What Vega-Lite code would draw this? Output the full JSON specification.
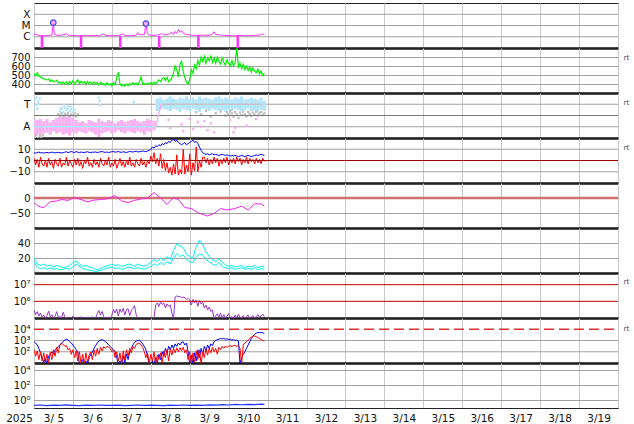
{
"$schema": "https://vega.github.io/schema/vega-lite/v6.json",
"padding": {"left": 5, "top": 2, "right": 5, "bottom": 4},
"spacing": 0,
"bounds": "flush",
"config": {
 "font": "DejaVu Sans",
 "view": {"stroke": "#222", "strokeWidth": 1},
 "axis": {"labelFont": "DejaVu Sans", "labelFontSize": 10, "labelColor": "#111", "gridColor": "#c8c8c8", "gridWidth": 1, "titleFont": "DejaVu Sans", "labelOverlap": false},
 "axisY": {"ticks": false, "domain": false, "labelPadding": 4, "grid": false},
 "axisX": {"ticks": false, "tickSize": 0, "gridColor": "#c8c8c8"}
},
"datasets": {
 "z0": [{"h":0,"v":0},{"h":360,"v":0}],
 "e67": [{"h":0,"v":1e6},{"h":360,"v":1e6},{"h":0,"v":1e7},{"h":360,"v":1e7}],
 "p4": [{"h":0,"v":10000},{"h":360,"v":10000}],
 "grid1": [{"h":0,"v":1e-6},{"h":360,"v":1e-6},{"h":0,"v":1e-5},{"h":360,"v":1e-5},{"h":0,"v":1e-4},{"h":360,"v":1e-4}],
 "grid2": [{"h":0,"v":400},{"h":360,"v":400},{"h":0,"v":500},{"h":360,"v":500},{"h":0,"v":600},{"h":360,"v":600},{"h":0,"v":700},{"h":360,"v":700}],
 "grid3": [{"h":0,"v":-1},{"h":360,"v":-1},{"h":0,"v":1},{"h":360,"v":1}],
 "grid4": [{"h":0,"v":-10},{"h":360,"v":-10},{"h":0,"v":10},{"h":360,"v":10}],
 "grid5": [{"h":0,"v":-50},{"h":360,"v":-50}],
 "grid6": [{"h":0,"v":20},{"h":360,"v":20},{"h":0,"v":40},{"h":360,"v":40}],
 "grid8": [{"h":0,"v":100},{"h":360,"v":100},{"h":0,"v":1000},{"h":360,"v":1000}],
 "grid9": [{"h":0,"v":1},{"h":360,"v":1},{"h":0,"v":100},{"h":360,"v":100},{"h":0,"v":10000},{"h":360,"v":10000}],
 "xray": [{"h":0,"v":1.5e-6},{"h":1,"v":1.8e-6},{"h":3,"v":1.3e-6},{"h":6,"v":1.2e-6},{"h":9,"v":1.3e-6},{"h":11,"v":1.4e-6},{"h":11.9,"v":1.8e-5},{"h":12.5,"v":1.6e-6},{"h":15,"v":1.3e-6},{"h":18,"v":1.5e-6},{"h":20,"v":1.9e-6},{"h":21,"v":1.4e-6},{"h":24,"v":1.3e-6},{"h":27,"v":1.2e-6},{"h":30,"v":1.3e-6},{"h":33,"v":1.2e-6},{"h":36,"v":1.3e-6},{"h":40,"v":1.2e-6},{"h":43,"v":1.8e-6},{"h":44,"v":1.3e-6},{"h":48,"v":1.2e-6},{"h":52,"v":1.3e-6},{"h":55,"v":1.8e-6},{"h":56,"v":1.3e-6},{"h":60,"v":1.2e-6},{"h":63,"v":1.4e-6},{"h":64,"v":2.4e-6},{"h":65,"v":1.5e-6},{"h":68,"v":1.6e-6},{"h":69,"v":1.5e-5},{"h":69.8,"v":2.2e-6},{"h":71,"v":1.4e-6},{"h":74,"v":1.3e-6},{"h":77,"v":1.5e-6},{"h":79,"v":2e-6},{"h":80,"v":1.4e-6},{"h":83,"v":1.7e-6},{"h":85,"v":2.5e-6},{"h":86,"v":1.6e-6},{"h":87,"v":3e-6},{"h":88,"v":2e-6},{"h":89,"v":4.5e-6},{"h":90,"v":2.5e-6},{"h":91,"v":3.5e-6},{"h":92,"v":2e-6},{"h":94,"v":1.6e-6},{"h":97,"v":1.4e-6},{"h":100,"v":1.3e-6},{"h":104,"v":1.4e-6},{"h":108,"v":1.3e-6},{"h":110,"v":1.8e-6},{"h":111,"v":2.8e-6},{"h":112,"v":1.6e-6},{"h":115,"v":1.4e-6},{"h":119,"v":1.3e-6},{"h":123,"v":1.2e-6},{"h":127,"v":1.3e-6},{"h":131,"v":1.2e-6},{"h":135,"v":1.3e-6},{"h":139,"v":1.4e-6},{"h":141,"v":1.8e-6},{"h":142,"v":1.5e-6}],
 "xrayDrop": [{"h":4.9,"v":1.2e-6},{"h":29,"v":1.2e-6},{"h":53.2,"v":1.2e-6},{"h":77.2,"v":1.2e-6},{"h":101.3,"v":1.2e-6},{"h":125.6,"v":1.2e-6}],
 "flare": [{"h":11.9,"v":1.8e-5},{"h":69,"v":1.5e-5}],
 "speed": [{"h":0,"v":515},{"h":1,"v":490},{"h":2,"v":525},{"h":3,"v":485},{"h":4,"v":480},{"h":5,"v":465},{"h":6,"v":460},{"h":7,"v":450},{"h":8,"v":445},{"h":9,"v":455},{"h":10,"v":430},{"h":11,"v":445},
{"h":12,"v":425},{"h":13,"v":430},{"h":14,"v":440},{"h":15,"v":410},{"h":16,"v":425},{"h":17,"v":405},{"h":18,"v":420},{"h":19,"v":400},{"h":20,"v":425},{"h":21,"v":395},{"h":22,"v":430},{"h":23,"v":405},
{"h":24,"v":435},{"h":25,"v":400},{"h":26,"v":425},{"h":27,"v":445},{"h":28,"v":405},{"h":29,"v":430},{"h":30,"v":410},{"h":31,"v":425},{"h":32,"v":395},{"h":33,"v":430},{"h":34,"v":405},{"h":35,"v":420},
{"h":36,"v":395},{"h":37,"v":425},{"h":38,"v":400},{"h":39,"v":415},{"h":40,"v":390},{"h":41,"v":420},{"h":42,"v":400},{"h":43,"v":405},{"h":44,"v":385},{"h":45,"v":415},{"h":46,"v":390},{"h":47,"v":405},
{"h":48,"v":380},{"h":49,"v":415},{"h":50,"v":390},{"h":51,"v":470},{"h":52,"v":530},{"h":53,"v":400},{"h":54,"v":380},{"h":55,"v":395},{"h":56,"v":375},{"h":57,"v":400},{"h":58,"v":380},{"h":59,"v":405},
{"h":60,"v":390},{"h":61,"v":415},{"h":62,"v":395},{"h":63,"v":410},{"h":64,"v":390},{"h":65,"v":425},{"h":66,"v":480},{"h":67,"v":400},{"h":68,"v":405},{"h":69,"v":395},{"h":70,"v":410},{"h":71,"v":400},
{"h":72,"v":415},{"h":73,"v":395},{"h":74,"v":420},{"h":75,"v":400},{"h":76,"v":425},{"h":77,"v":445},{"h":78,"v":425},{"h":79,"v":460},{"h":80,"v":470},{"h":81,"v":440},{"h":82,"v":475},{"h":83,"v":425},
{"h":84,"v":440},{"h":85,"v":470},{"h":86,"v":520},{"h":87,"v":600},{"h":88,"v":560},{"h":89,"v":480},{"h":90,"v":620},{"h":91,"v":650},{"h":92,"v":540},{"h":93,"v":470},{"h":94,"v":420},{"h":95,"v":400},
{"h":96,"v":450},{"h":97,"v":560},{"h":98,"v":520},{"h":99,"v":610},{"h":100,"v":570},{"h":101,"v":660},{"h":102,"v":610},{"h":103,"v":700},{"h":104,"v":650},{"h":105,"v":710},{"h":106,"v":630},{"h":107,"v":690},
{"h":108,"v":660},{"h":109,"v":710},{"h":110,"v":640},{"h":111,"v":690},{"h":112,"v":630},{"h":113,"v":700},{"h":114,"v":650},{"h":115,"v":620},{"h":116,"v":690},{"h":117,"v":640},{"h":118,"v":610},{"h":119,"v":670},
{"h":120,"v":630},{"h":121,"v":600},{"h":122,"v":660},{"h":123,"v":600},{"h":124,"v":640},{"h":125,"v":800},{"h":126,"v":590},{"h":127,"v":630},{"h":128,"v":570},{"h":129,"v":620},{"h":130,"v":560},{"h":131,"v":600},
{"h":132,"v":550},{"h":133,"v":590},{"h":134,"v":530},{"h":135,"v":580},{"h":136,"v":540},{"h":137,"v":525},{"h":138,"v":565},{"h":139,"v":510},{"h":140,"v":545},{"h":141,"v":495},{"h":142,"v":520}],
 "pinkBand": [{"h":0,"v":-1.9,"v2":-0.2},{"h":2,"v":-1.7,"v2":-0.4},{"h":4,"v":-1.8,"v2":-0.3},{"h":6,"v":-1.6,"v2":-0.5},{"h":8,"v":-1.5,"v2":-0.3},{"h":10,"v":-1.7,"v2":-0.6},{"h":12,"v":-1.4,"v2":-0.4},{"h":14,"v":-1.6,"v2":-0.2},{"h":16,"v":-1.5,"v2":-0.1},{"h":18,"v":-1.7,"v2":0.0},{"h":20,"v":-1.6,"v2":-0.1},{"h":22,"v":-1.8,"v2":0.0},{"h":24,"v":-1.5,"v2":-0.2},{"h":26,"v":-1.6,"v2":-0.4},{"h":28,"v":-1.4,"v2":-0.6},{"h":30,"v":-1.5,"v2":-0.5},{"h":32,"v":-1.6,"v2":-0.7},{"h":34,"v":-1.4,"v2":-0.4},{"h":36,"v":-1.5,"v2":-0.5},{"h":38,"v":-1.7,"v2":-0.6},{"h":40,"v":-1.9,"v2":-0.3},{"h":42,"v":-1.6,"v2":-0.5},{"h":44,"v":-1.5,"v2":-0.6},{"h":46,"v":-1.4,"v2":-0.4},{"h":48,"v":-1.6,"v2":-0.5},{"h":50,"v":-1.5,"v2":-0.7},{"h":52,"v":-1.3,"v2":-0.5},{"h":54,"v":-1.5,"v2":-0.4},{"h":56,"v":-1.6,"v2":-0.6},{"h":58,"v":-1.4,"v2":-0.5},{"h":60,"v":-1.5,"v2":-0.4},{"h":62,"v":-1.6,"v2":-0.3},{"h":64,"v":-1.4,"v2":-0.5},{"h":66,"v":-1.5,"v2":-0.6},{"h":68,"v":-1.7,"v2":-0.5},{"h":70,"v":-1.4,"v2":-0.3},{"h":72,"v":-1.5,"v2":-0.4},{"h":74,"v":-1.3,"v2":-0.5}],
 "blueBand": [{"h":76,"v":0.4,"v2":1.5},{"h":78,"v":0.5,"v2":1.6},{"h":80,"v":0.6,"v2":1.4},{"h":82,"v":0.5,"v2":1.5},{"h":84,"v":0.4,"v2":1.7},{"h":86,"v":0.6,"v2":1.5},{"h":88,"v":0.5,"v2":1.4},{"h":90,"v":0.3,"v2":1.6},{"h":92,"v":0.6,"v2":1.5},{"h":94,"v":0.5,"v2":1.7},{"h":96,"v":0.4,"v2":1.5},{"h":98,"v":0.6,"v2":1.6},{"h":100,"v":0.5,"v2":1.4},{"h":102,"v":0.3,"v2":1.7},{"h":104,"v":0.6,"v2":1.5},{"h":106,"v":0.5,"v2":1.6},{"h":108,"v":0.4,"v2":1.5},{"h":110,"v":0.6,"v2":1.4},{"h":112,"v":0.5,"v2":1.6},{"h":114,"v":0.4,"v2":1.7},{"h":116,"v":0.5,"v2":1.5},{"h":118,"v":0.3,"v2":1.6},{"h":120,"v":0.5,"v2":1.5},{"h":122,"v":0.4,"v2":1.4},{"h":124,"v":0.6,"v2":1.6},{"h":126,"v":0.5,"v2":1.5},{"h":128,"v":0.4,"v2":1.7},{"h":130,"v":0.5,"v2":1.4},{"h":132,"v":0.6,"v2":1.5},{"h":134,"v":0.4,"v2":1.6},{"h":136,"v":0.5,"v2":1.5},{"h":138,"v":0.3,"v2":1.4},{"h":140,"v":0.5,"v2":1.6},{"h":142,"v":0.4,"v2":1.3}],
 "sect": [{"h":0.5,"v":1.4,"c":"T"},{"h":1,"v":0.9,"c":"T"},{"h":1.5,"v":1.6,"c":"T"},{"h":2,"v":0.6,"c":"T"},{"h":2.5,"v":1.2,"c":"T"},{"h":3,"v":1.0,"c":"T"},{"h":3.5,"v":1.5,"c":"T"},{"h":40,"v":1.6,"c":"T"},{"h":40.5,"v":1.3,"c":"T"},{"h":41,"v":0.9,"c":"T"},{"h":61.5,"v":1.2,"c":"T"},
{"h":15,"v":0.1,"c":"G"},{"h":16,"v":0.0,"c":"G"},{"h":17,"v":0.2,"c":"G"},{"h":18,"v":-0.1,"c":"G"},{"h":19,"v":0.15,"c":"G"},{"h":20,"v":0.05,"c":"G"},{"h":21,"v":0.2,"c":"G"},{"h":22,"v":-0.05,"c":"G"},{"h":23,"v":0.1,"c":"G"},{"h":24,"v":0.0,"c":"G"},{"h":25,"v":0.2,"c":"G"},{"h":26,"v":-0.1,"c":"G"},{"h":27,"v":0.1,"c":"G"},{"h":0.5,"v":-1.9,"c":"G"},{"h":1.5,"v":-1.7,"c":"G"},{"h":2.5,"v":-2.0,"c":"G"},{"h":3.5,"v":-1.8,"c":"G"},{"h":4.5,"v":-1.95,"c":"G"},{"h":5.5,"v":-1.75,"c":"G"},
{"h":16,"v":0.4,"c":"T"},{"h":17,"v":0.6,"c":"T"},{"h":18,"v":0.3,"c":"T"},{"h":19,"v":0.7,"c":"T"},{"h":20,"v":0.5,"c":"T"},{"h":21,"v":0.8,"c":"T"},{"h":22,"v":0.4,"c":"T"},{"h":23,"v":0.6,"c":"T"},{"h":24,"v":0.3,"c":"T"},{"h":25,"v":0.5,"c":"T"},{"h":16.5,"v":0.7,"c":"T"},{"h":18.5,"v":0.9,"c":"T"},{"h":20.5,"v":0.6,"c":"T"},{"h":22.5,"v":0.8,"c":"T"},
{"h":100,"v":0.3,"c":"G"},{"h":103,"v":0.1,"c":"G"},{"h":106,"v":0.4,"c":"G"},{"h":109,"v":-0.1,"c":"G"},{"h":112,"v":0.2,"c":"G"},{"h":115,"v":0.35,"c":"G"},{"h":118,"v":0.0,"c":"G"},{"h":119,"v":0.3,"c":"G"},{"h":120,"v":0.1,"c":"G"},{"h":121,"v":0.4,"c":"G"},{"h":122,"v":0.2,"c":"G"},{"h":123,"v":-0.1,"c":"G"},{"h":124,"v":0.3,"c":"G"},{"h":125,"v":0.1,"c":"G"},{"h":126,"v":-0.2,"c":"G"},{"h":127,"v":0.25,"c":"G"},{"h":128,"v":0.05,"c":"G"},{"h":129,"v":0.35,"c":"G"},{"h":130,"v":0.1,"c":"G"},{"h":131,"v":-0.1,"c":"G"},{"h":132,"v":0.3,"c":"G"},{"h":133,"v":0.15,"c":"G"},{"h":134,"v":-0.05,"c":"G"},{"h":135,"v":0.25,"c":"G"},{"h":136,"v":0.1,"c":"G"},{"h":137,"v":0.35,"c":"G"},{"h":138,"v":0.0,"c":"G"},{"h":139,"v":0.2,"c":"G"},{"h":140,"v":0.3,"c":"G"},{"h":141,"v":0.05,"c":"G"},{"h":142,"v":0.2,"c":"G"},
{"h":83,"v":-0.4,"c":"A"},{"h":84,"v":-1.1,"c":"A"},{"h":91,"v":-0.8,"c":"A"},{"h":92,"v":-1.4,"c":"A"},{"h":96,"v":-0.3,"c":"A"},{"h":98,"v":-1.2,"c":"A"},{"h":101,"v":-0.6,"c":"A"},{"h":103,"v":-1.0,"c":"A"},{"h":105,"v":-0.5,"c":"A"},{"h":107,"v":-1.3,"c":"A"},{"h":109,"v":-0.7,"c":"A"},{"h":111,"v":-1.5,"c":"A"},{"h":121,"v":-0.4,"c":"A"},{"h":123,"v":-1.5,"c":"A"},{"h":124,"v":-1.1,"c":"A"},{"h":131,"v":-0.9,"c":"A"},{"h":137,"v":-0.3,"c":"A"}],
 "model": [{"h":0,"v":-1,"s":"a"},{"h":75,"v":-1,"s":"a"},{"h":75,"v":-1,"s":"m"},{"h":78.3,"v":1,"s":"m"},{"h":78.3,"v":1,"s":"t"},{"h":141,"v":1,"s":"t"}],
 "bt": [{"h":0,"v":7},{"h":1,"v":6.5},{"h":2,"v":7},{"h":3,"v":7.5},{"h":4,"v":6.8},{"h":5,"v":7},{"h":6,"v":6.5},{"h":7,"v":7},{"h":8,"v":7.2},{"h":9,"v":6.8},{"h":10,"v":7},{"h":11,"v":7.5},{"h":12,"v":7},{"h":13,"v":6.8},{"h":14,"v":7},{"h":15,"v":7.3},{"h":16,"v":7},{"h":17,"v":6.6},{"h":18,"v":7},{"h":19,"v":7.4},{"h":20,"v":7.8},{"h":21,"v":7},{"h":22,"v":7.5},{"h":23,"v":8},
{"h":24,"v":7.5},{"h":25,"v":7},{"h":26,"v":8},{"h":27,"v":7.4},{"h":28,"v":7},{"h":29,"v":7.6},{"h":30,"v":7.2},{"h":31,"v":7},{"h":32,"v":7.5},{"h":33,"v":7.8},{"h":34,"v":7.2},{"h":35,"v":7},{"h":36,"v":7.5},{"h":37,"v":7.3},{"h":38,"v":7.6},{"h":39,"v":7},{"h":40,"v":7.4},{"h":41,"v":7.8},{"h":42,"v":8},{"h":43,"v":7.5},{"h":44,"v":7.2},{"h":45,"v":7.6},{"h":46,"v":7},{"h":47,"v":7.5},
{"h":48,"v":7.8},{"h":49,"v":8},{"h":50,"v":7.4},{"h":51,"v":7.6},{"h":52,"v":8},{"h":53,"v":7.5},{"h":54,"v":7.2},{"h":55,"v":7.8},{"h":56,"v":7.5},{"h":57,"v":7},{"h":58,"v":7.6},{"h":59,"v":8},{"h":60,"v":7.8},{"h":61,"v":7.5},{"h":62,"v":8},{"h":63,"v":8.2},{"h":64,"v":7.6},{"h":65,"v":7.8},{"h":66,"v":8},{"h":67,"v":8.5},{"h":68,"v":8.2},{"h":69,"v":7.8},{"h":70,"v":8.5},{"h":71,"v":9},
{"h":72,"v":10},{"h":73,"v":12},{"h":74,"v":11},{"h":75,"v":13},{"h":76,"v":12.5},{"h":77,"v":14},{"h":78,"v":13},{"h":79,"v":15},{"h":80,"v":14},{"h":81,"v":16},{"h":82,"v":15},{"h":83,"v":17},{"h":84,"v":16},{"h":85,"v":18},{"h":86,"v":19},{"h":87,"v":17},{"h":88,"v":18},{"h":89,"v":16},{"h":90,"v":15},{"h":91,"v":14},{"h":92,"v":15},{"h":93,"v":16},{"h":94,"v":14},{"h":95,"v":15},
{"h":96,"v":16},{"h":97,"v":17},{"h":98,"v":18},{"h":99,"v":16},{"h":100,"v":17},{"h":101,"v":15},{"h":102,"v":12},{"h":103,"v":9},{"h":104,"v":7},{"h":105,"v":6},{"h":106,"v":5.5},{"h":107,"v":6},{"h":108,"v":5},{"h":109,"v":5.5},{"h":110,"v":6},{"h":111,"v":5},{"h":112,"v":5.5},{"h":113,"v":5},{"h":114,"v":4.5},{"h":115,"v":5},{"h":116,"v":5.5},{"h":117,"v":5},{"h":118,"v":4.5},{"h":119,"v":5},
{"h":120,"v":4.5},{"h":121,"v":4},{"h":122,"v":4.5},{"h":123,"v":4},{"h":124,"v":4.5},{"h":125,"v":4},{"h":126,"v":3.5},{"h":127,"v":4},{"h":128,"v":4.5},{"h":129,"v":4},{"h":130,"v":3.5},{"h":131,"v":4},{"h":132,"v":4.5},{"h":133,"v":4},{"h":134,"v":3.5},{"h":135,"v":4},{"h":136,"v":4.5},{"h":137,"v":5},{"h":138,"v":4.5},{"h":139,"v":5},{"h":140,"v":5.5},{"h":141,"v":5},{"h":142,"v":4.5}],
 "bz": [{"h":0,"v":2},{"h":1,"v":-4},{"h":2,"v":1},{"h":3,"v":-6},{"h":4,"v":3},{"h":5,"v":-3},{"h":6,"v":-5},{"h":7,"v":0},{"h":8,"v":-6},{"h":9,"v":2},{"h":10,"v":-4},{"h":11,"v":-1},{"h":12,"v":-7},{"h":13,"v":1},{"h":14,"v":-3},{"h":15,"v":-5},{"h":16,"v":2},{"h":17,"v":-6},{"h":18,"v":-2},{"h":19,"v":-4},{"h":20,"v":3},{"h":21,"v":-5},{"h":22,"v":0},{"h":23,"v":-3},
{"h":24,"v":-6},{"h":25,"v":1},{"h":26,"v":-4},{"h":27,"v":2},{"h":28,"v":-5},{"h":29,"v":-1},{"h":30,"v":-7},{"h":31,"v":0},{"h":32,"v":-3},{"h":33,"v":3},{"h":34,"v":-5},{"h":35,"v":-2},{"h":36,"v":-6},{"h":37,"v":1},{"h":38,"v":-4},{"h":39,"v":-1},{"h":40,"v":-6},{"h":41,"v":2},{"h":42,"v":-3},{"h":43,"v":-5},{"h":44,"v":0},{"h":45,"v":-4},{"h":46,"v":3},{"h":47,"v":-6},
{"h":48,"v":-2},{"h":49,"v":-5},{"h":50,"v":1},{"h":51,"v":-7},{"h":52,"v":-3},{"h":53,"v":2},{"h":54,"v":-5},{"h":55,"v":-1},{"h":56,"v":-6},{"h":57,"v":0},{"h":58,"v":-4},{"h":59,"v":3},{"h":60,"v":-5},{"h":61,"v":-2},{"h":62,"v":-6},{"h":63,"v":1},{"h":64,"v":-3},{"h":65,"v":-5},{"h":66,"v":2},{"h":67,"v":-4},{"h":68,"v":-1},{"h":69,"v":-6},{"h":70,"v":0},{"h":71,"v":-3},
{"h":72,"v":4},{"h":73,"v":-1},{"h":74,"v":7},{"h":75,"v":-3},{"h":76,"v":2},{"h":77,"v":-5},{"h":78,"v":6},{"h":79,"v":-7},{"h":80,"v":1},{"h":81,"v":-9},{"h":82,"v":-2},{"h":83,"v":-11},{"h":84,"v":-6},
{"h":85,"v":-13},{"h":86,"v":-3},{"h":87,"v":-12},{"h":88,"v":5},{"h":89,"v":-13},{"h":90,"v":-8},{"h":91,"v":-12},{"h":92,"v":10},{"h":93,"v":-12},{"h":94,"v":-4},{"h":95,"v":-10},{"h":96,"v":6},{"h":97,"v":-13},{"h":98,"v":-2},{"h":99,"v":-9},{"h":100,"v":12},{"h":101,"v":-10},{"h":102,"v":0},{"h":103,"v":-6},{"h":104,"v":3},
{"h":105,"v":3},{"h":106,"v":-2},{"h":107,"v":2},{"h":108,"v":-4},{"h":109,"v":1},{"h":110,"v":-3},{"h":111,"v":3},{"h":112,"v":-2},{"h":113,"v":2},{"h":114,"v":-5},{"h":115,"v":1},{"h":116,"v":-3},{"h":117,"v":2},{"h":118,"v":-2},{"h":119,"v":3},{"h":120,"v":-4},{"h":121,"v":1},{"h":122,"v":-2},{"h":123,"v":2},{"h":124,"v":-3},{"h":125,"v":3},{"h":126,"v":-1},{"h":127,"v":2},{"h":128,"v":-4},{"h":129,"v":1},{"h":130,"v":-2},{"h":131,"v":3},{"h":132,"v":-3},{"h":133,"v":2},{"h":134,"v":-1},{"h":135,"v":1},{"h":136,"v":-3},{"h":137,"v":2},{"h":138,"v":-2},{"h":139,"v":1},{"h":140,"v":-3},{"h":141,"v":2},{"h":142,"v":-1}],
 "dst": [{"h":0,"v":-15},{"h":2,"v":-25},{"h":4,"v":-30},{"h":6,"v":-32},{"h":8,"v":-22},{"h":10,"v":-12},{"h":14,"v":-10},{"h":17,"v":-5},{"h":21,"v":-8},{"h":25,"v":2},{"h":29,"v":-5},{"h":33,"v":-13},{"h":37,"v":-7},{"h":41,"v":-5},{"h":45,"v":-3},{"h":50,"v":8},{"h":54,"v":-10},{"h":58,"v":-15},{"h":62,"v":-8},{"h":66,"v":-3},{"h":70,"v":0},{"h":74,"v":18},{"h":78,"v":0},{"h":82,"v":-21},{"h":86,"v":1},{"h":89,"v":-5},{"h":93,"v":-32},{"h":97,"v":-35},{"h":101,"v":-49},{"h":107,"v":-60},{"h":111,"v":-52},{"h":115,"v":-35},{"h":119,"v":-40},{"h":124,"v":-35},{"h":128,"v":-27},{"h":132,"v":-40},{"h":136,"v":-19},{"h":140,"v":-20},{"h":142,"v":-27}],
 "cyan": [{"h":0,"v":20,"s":"a"},{"h":2,"v":12,"s":"a"},{"h":4,"v":10,"s":"a"},{"h":6,"v":12,"s":"a"},{"h":8,"v":9,"s":"a"},{"h":10,"v":11,"s":"a"},{"h":12,"v":8,"s":"a"},{"h":14,"v":10,"s":"a"},{"h":16,"v":9,"s":"a"},{"h":18,"v":7,"s":"a"},{"h":20,"v":8,"s":"a"},{"h":22,"v":10,"s":"a"},{"h":24,"v":14,"s":"a"},{"h":26,"v":16,"s":"a"},{"h":28,"v":12,"s":"a"},{"h":30,"v":9,"s":"a"},{"h":32,"v":10,"s":"a"},{"h":34,"v":8,"s":"a"},{"h":36,"v":7,"s":"a"},{"h":38,"v":5,"s":"a"},{"h":40,"v":4,"s":"a"},{"h":42,"v":7,"s":"a"},{"h":44,"v":9,"s":"a"},{"h":46,"v":10,"s":"a"},{"h":48,"v":12,"s":"a"},{"h":50,"v":10,"s":"a"},{"h":52,"v":11,"s":"a"},{"h":54,"v":9,"s":"a"},{"h":56,"v":10,"s":"a"},{"h":58,"v":12,"s":"a"},{"h":60,"v":11,"s":"a"},{"h":62,"v":9,"s":"a"},{"h":64,"v":12,"s":"a"},{"h":66,"v":10,"s":"a"},{"h":68,"v":9,"s":"a"},{"h":70,"v":11,"s":"a"},{"h":72,"v":14,"s":"a"},{"h":74,"v":18,"s":"a"},{"h":76,"v":15,"s":"a"},{"h":78,"v":20,"s":"a"},{"h":80,"v":16,"s":"a"},{"h":82,"v":22,"s":"a"},{"h":84,"v":18,"s":"a"},{"h":86,"v":30,"s":"a"},{"h":88,"v":39,"s":"a"},{"h":90,"v":36,"s":"a"},{"h":92,"v":34,"s":"a"},{"h":94,"v":25,"s":"a"},{"h":96,"v":22,"s":"a"},{"h":98,"v":20,"s":"a"},{"h":100,"v":35,"s":"a"},{"h":102,"v":44,"s":"a"},{"h":104,"v":38,"s":"a"},{"h":106,"v":28,"s":"a"},{"h":108,"v":22,"s":"a"},{"h":110,"v":18,"s":"a"},{"h":112,"v":15,"s":"a"},{"h":114,"v":19,"s":"a"},{"h":116,"v":14,"s":"a"},{"h":118,"v":11,"s":"a"},{"h":120,"v":9,"s":"a"},{"h":122,"v":10,"s":"a"},{"h":124,"v":8,"s":"a"},{"h":126,"v":9,"s":"a"},{"h":128,"v":10,"s":"a"},{"h":130,"v":7,"s":"a"},{"h":132,"v":9,"s":"a"},{"h":134,"v":8,"s":"a"},{"h":136,"v":10,"s":"a"},{"h":138,"v":7,"s":"a"},{"h":140,"v":9,"s":"a"},{"h":142,"v":8,"s":"a"},
{"h":0,"v":14,"s":"b"},{"h":2,"v":8,"s":"b"},{"h":4,"v":6,"s":"b"},{"h":6,"v":7,"s":"b"},{"h":8,"v":5,"s":"b"},{"h":10,"v":7,"s":"b"},{"h":12,"v":5,"s":"b"},{"h":14,"v":6,"s":"b"},{"h":16,"v":4,"s":"b"},{"h":18,"v":5,"s":"b"},{"h":20,"v":6,"s":"b"},{"h":22,"v":5,"s":"b"},{"h":24,"v":8,"s":"b"},{"h":26,"v":12,"s":"b"},{"h":28,"v":9,"s":"b"},{"h":30,"v":6,"s":"b"},{"h":32,"v":5,"s":"b"},{"h":34,"v":4,"s":"b"},{"h":36,"v":3,"s":"b"},{"h":38,"v":2,"s":"b"},{"h":40,"v":3,"s":"b"},{"h":42,"v":4,"s":"b"},{"h":44,"v":6,"s":"b"},{"h":46,"v":7,"s":"b"},{"h":48,"v":8,"s":"b"},{"h":50,"v":6,"s":"b"},{"h":52,"v":7,"s":"b"},{"h":54,"v":5,"s":"b"},{"h":56,"v":6,"s":"b"},{"h":58,"v":8,"s":"b"},{"h":60,"v":7,"s":"b"},{"h":62,"v":6,"s":"b"},{"h":64,"v":7,"s":"b"},{"h":66,"v":6,"s":"b"},{"h":68,"v":5,"s":"b"},{"h":70,"v":7,"s":"b"},{"h":72,"v":9,"s":"b"},{"h":74,"v":12,"s":"b"},{"h":76,"v":10,"s":"b"},{"h":78,"v":14,"s":"b"},{"h":80,"v":11,"s":"b"},{"h":82,"v":15,"s":"b"},{"h":84,"v":12,"s":"b"},{"h":86,"v":20,"s":"b"},{"h":88,"v":26,"s":"b"},{"h":90,"v":22,"s":"b"},{"h":92,"v":24,"s":"b"},{"h":94,"v":18,"s":"b"},{"h":96,"v":15,"s":"b"},{"h":98,"v":14,"s":"b"},{"h":100,"v":22,"s":"b"},{"h":102,"v":25,"s":"b"},{"h":104,"v":24,"s":"b"},{"h":106,"v":18,"s":"b"},{"h":108,"v":15,"s":"b"},{"h":110,"v":12,"s":"b"},{"h":112,"v":10,"s":"b"},{"h":114,"v":14,"s":"b"},{"h":116,"v":9,"s":"b"},{"h":118,"v":7,"s":"b"},{"h":120,"v":6,"s":"b"},{"h":122,"v":7,"s":"b"},{"h":124,"v":5,"s":"b"},{"h":126,"v":6,"s":"b"},{"h":128,"v":7,"s":"b"},{"h":130,"v":5,"s":"b"},{"h":132,"v":6,"s":"b"},{"h":134,"v":5,"s":"b"},{"h":136,"v":7,"s":"b"},{"h":138,"v":4,"s":"b"},{"h":140,"v":6,"s":"b"},{"h":142,"v":5,"s":"b"}],
 "elec": [{"h":0,"v":3e5},{"h":1,"v":1.6e5},{"h":2,"v":2.4e5},{"h":3,"v":1.3e5},{"h":4,"v":2e5},{"h":5,"v":1.1e5},{"h":6,"v":1.5e5},{"h":7,"v":1e5},{"h":8,"v":1.4e5},{"h":9,"v":2.6e5},{"h":10,"v":1.2e5},{"h":11,"v":1.6e5},{"h":12,"v":1e5},{"h":13,"v":1.3e5},{"h":14,"v":2.4e5},{"h":15,"v":1.1e5},{"h":16,"v":1.2e5},{"h":17,"v":1e5},{"h":18,"v":2.2e5},{"h":19,"v":1.2e5},{"h":20,"v":1e5},{"h":21,"v":1.1e5},{"h":22,"v":9e4},{"h":23,"v":1e5},{"h":24,"v":1.3e5},{"h":25,"v":9e4},{"h":26,"v":1e5},{"h":27,"v":1.1e5},{"h":28,"v":9e4},{"h":29,"v":1.2e5},{"h":30,"v":1e5},{"h":31,"v":9e4},{"h":32,"v":1e5},{"h":33,"v":1.1e5},{"h":34,"v":9e4},{"h":35,"v":1e5},{"h":36,"v":1.2e5},{"h":37,"v":9e4},{"h":38,"v":1e5},{"h":39,"v":1.8e5},{"h":40,"v":2.8e5},{"h":41,"v":1.5e5},{"h":42,"v":2.5e5},{"h":43,"v":1.2e5},{"h":44,"v":9e4},{"h":45,"v":1e5},{"h":46,"v":1.1e5},{"h":47,"v":9e4},{"h":48,"v":1.5e5},{"h":49,"v":3.2e5},{"h":50,"v":2e5},{"h":51,"v":3.5e5},{"h":52,"v":1.3e5},{"h":53,"v":3.5e5},{"h":54,"v":2.2e5},{"h":55,"v":3.8e5},{"h":56,"v":1.5e5},{"h":57,"v":3.2e5},{"h":58,"v":3.6e5},{"h":59,"v":1.4e5},{"h":60,"v":2.8e5},{"h":61,"v":3.8e5},{"h":62,"v":5.5e5},{"h":63,"v":1.5e5},{"h":64,"v":1e5},{"h":65,"v":9e4},{"h":66,"v":1e5},{"h":67,"v":9e4},{"h":68,"v":1e5},{"h":69,"v":9e4},{"h":70,"v":1e5},{"h":71,"v":9e4},{"h":72,"v":1e5},{"h":73,"v":9e4},{"h":74,"v":1.1e5},{"h":75,"v":6e5},{"h":76,"v":8e5},{"h":77,"v":5e5},{"h":78,"v":9e5},{"h":79,"v":6.5e5},{"h":80,"v":8e5},{"h":81,"v":4e5},{"h":82,"v":7e5},{"h":83,"v":5e5},{"h":84,"v":6e5},{"h":85,"v":2e5},{"h":86,"v":9e4},{"h":87,"v":1.8e6},{"h":88,"v":2.1e6},{"h":89,"v":1.9e6},{"h":90,"v":2e6},{"h":91,"v":1.6e6},{"h":92,"v":1.8e6},{"h":93,"v":1.7e6},{"h":94,"v":1.3e6},{"h":95,"v":1.5e6},{"h":96,"v":1.2e6},{"h":97,"v":6e5},{"h":98,"v":1.3e6},{"h":99,"v":8e5},{"h":100,"v":1.2e6},{"h":101,"v":5e5},{"h":102,"v":1.1e6},{"h":103,"v":7e5},{"h":104,"v":9e5},{"h":105,"v":4e5},{"h":106,"v":6e5},{"h":107,"v":3e5},{"h":108,"v":4.5e5},{"h":109,"v":2.5e5},{"h":110,"v":3e5},{"h":111,"v":9e4},{"h":112,"v":1.3e5},{"h":113,"v":1.8e5},{"h":114,"v":1.1e5},{"h":115,"v":2e5},{"h":116,"v":1e5},{"h":117,"v":1.6e5},{"h":118,"v":1e5},{"h":119,"v":1.3e5},{"h":120,"v":1.8e5},{"h":121,"v":1e5},{"h":122,"v":1.2e5},{"h":123,"v":9e4},{"h":124,"v":1.5e5},{"h":125,"v":1e5},{"h":126,"v":1.7e5},{"h":127,"v":1.1e5},{"h":128,"v":1e5},{"h":129,"v":1.4e5},{"h":130,"v":1e5},{"h":131,"v":1.2e5},{"h":132,"v":1.5e5},{"h":133,"v":1e5},{"h":134,"v":1.1e5},{"h":135,"v":1.4e5},{"h":136,"v":1e5},{"h":137,"v":1.2e5},{"h":138,"v":1.6e5},{"h":139,"v":1.1e5},{"h":140,"v":1.3e5},{"h":141,"v":1.7e5},{"h":142,"v":1.2e5}],
 "pBlue": [{"h":0,"v":800},{"h":1,"v":600},{"h":2,"v":400},{"h":3,"v":200},{"h":4,"v":80},{"h":5,"v":30},{"h":6,"v":12},{"h":7,"v":25},{"h":8,"v":8},{"h":9,"v":40},{"h":10,"v":60},{"h":11,"v":100},{"h":12,"v":60},{"h":13,"v":150},{"h":14,"v":200},{"h":15,"v":300},{"h":16,"v":400},{"h":17,"v":600},{"h":18,"v":800},{"h":19,"v":1100},{"h":20,"v":1300},{"h":21,"v":1100},{"h":22,"v":800},{"h":23,"v":600},{"h":24,"v":400},{"h":25,"v":250},{"h":26,"v":150},{"h":27,"v":100},{"h":28,"v":8},{"h":29,"v":8},{"h":30,"v":20},{"h":31,"v":8},{"h":32,"v":15},{"h":33,"v":8},{"h":34,"v":30},{"h":35,"v":60},{"h":36,"v":100},{"h":37,"v":200},{"h":38,"v":350},{"h":39,"v":600},{"h":40,"v":900},{"h":41,"v":1100},{"h":42,"v":1200},{"h":43,"v":1000},{"h":44,"v":800},{"h":45,"v":600},{"h":46,"v":400},{"h":47,"v":300},{"h":48,"v":200},{"h":49,"v":150},{"h":50,"v":100},{"h":51,"v":30},{"h":52,"v":8},{"h":53,"v":15},{"h":54,"v":8},{"h":55,"v":40},{"h":56,"v":10},{"h":57,"v":60},{"h":58,"v":20},{"h":59,"v":100},{"h":60,"v":200},{"h":61,"v":400},{"h":62,"v":700},{"h":63,"v":900},{"h":64,"v":1000},{"h":65,"v":1050},{"h":66,"v":800},{"h":67,"v":500},{"h":68,"v":300},{"h":69,"v":150},{"h":70,"v":40},{"h":71,"v":8},{"h":72,"v":8},{"h":73,"v":15},{"h":74,"v":8},{"h":75,"v":30},{"h":76,"v":10},{"h":77,"v":60},{"h":78,"v":20},{"h":79,"v":100},{"h":80,"v":40},{"h":81,"v":200},{"h":82,"v":80},{"h":83,"v":300},{"h":84,"v":150},{"h":85,"v":400},{"h":86,"v":200},{"h":87,"v":500},{"h":88,"v":300},{"h":89,"v":600},{"h":90,"v":400},{"h":91,"v":700},{"h":92,"v":750},{"h":93,"v":400},{"h":94,"v":600},{"h":95,"v":100},{"h":96,"v":8},{"h":97,"v":50},{"h":98,"v":8},{"h":99,"v":80},{"h":100,"v":15},{"h":101,"v":150},{"h":102,"v":30},{"h":103,"v":200},{"h":104,"v":60},{"h":105,"v":300},{"h":106,"v":120},{"h":107,"v":400},{"h":108,"v":200},{"h":109,"v":500},{"h":110,"v":350},{"h":111,"v":800},{"h":112,"v":1000},{"h":113,"v":1200},{"h":114,"v":1300},{"h":115,"v":1500},{"h":116,"v":1400},{"h":117,"v":1500},{"h":118,"v":1300},{"h":119,"v":1400},{"h":120,"v":1200},{"h":121,"v":1300},{"h":122,"v":1100},{"h":123,"v":1200},{"h":124,"v":1000},{"h":125,"v":1100},{"h":126,"v":900},{"h":127,"v":8},{"h":128,"v":30},{"h":129,"v":60},{"h":130,"v":100},{"h":131,"v":200},{"h":132,"v":400},{"h":133,"v":800},{"h":134,"v":1500},{"h":135,"v":2500},{"h":136,"v":3500},{"h":137,"v":4500},{"h":138,"v":5000},{"h":139,"v":5200},{"h":140,"v":5000},{"h":141,"v":4800},{"h":142,"v":4500}],
 "pRed": [{"h":0,"v":150},{"h":1,"v":40},{"h":2,"v":120},{"h":3,"v":20},{"h":4,"v":100},{"h":5,"v":15},{"h":6,"v":80},{"h":7,"v":12},{"h":8,"v":60},{"h":9,"v":8},{"h":10,"v":90},{"h":11,"v":20},{"h":12,"v":150},{"h":13,"v":40},{"h":14,"v":250},{"h":15,"v":80},{"h":16,"v":400},{"h":17,"v":550},{"h":18,"v":450},{"h":19,"v":300},{"h":20,"v":350},{"h":21,"v":150},{"h":22,"v":200},{"h":23,"v":60},{"h":24,"v":150},{"h":25,"v":30},{"h":26,"v":120},{"h":27,"v":15},{"h":28,"v":100},{"h":29,"v":8},{"h":30,"v":60},{"h":31,"v":8},{"h":32,"v":80},{"h":33,"v":12},{"h":34,"v":50},{"h":35,"v":100},{"h":36,"v":20},{"h":37,"v":150},{"h":38,"v":40},{"h":39,"v":200},{"h":40,"v":60},{"h":41,"v":250},{"h":42,"v":120},{"h":43,"v":280},{"h":44,"v":200},{"h":45,"v":300},{"h":46,"v":250},{"h":47,"v":200},{"h":48,"v":100},{"h":49,"v":150},{"h":50,"v":30},{"h":51,"v":100},{"h":52,"v":15},{"h":53,"v":80},{"h":54,"v":8},{"h":55,"v":120},{"h":56,"v":20},{"h":57,"v":150},{"h":58,"v":40},{"h":59,"v":200},{"h":60,"v":80},{"h":61,"v":300},{"h":62,"v":200},{"h":63,"v":450},{"h":64,"v":550},{"h":65,"v":600},{"h":66,"v":400},{"h":67,"v":250},{"h":68,"v":100},{"h":69,"v":30},{"h":70,"v":80},{"h":71,"v":8},{"h":72,"v":60},{"h":73,"v":15},{"h":74,"v":100},{"h":75,"v":8},{"h":76,"v":50},{"h":77,"v":20},{"h":78,"v":80},{"h":79,"v":10},{"h":80,"v":120},{"h":81,"v":30},{"h":82,"v":150},{"h":83,"v":15},{"h":84,"v":180},{"h":85,"v":50},{"h":86,"v":200},{"h":87,"v":80},{"h":88,"v":220},{"h":89,"v":100},{"h":90,"v":230},{"h":91,"v":120},{"h":92,"v":250},{"h":93,"v":80},{"h":94,"v":150},{"h":95,"v":20},{"h":96,"v":100},{"h":97,"v":8},{"h":98,"v":80},{"h":99,"v":12},{"h":100,"v":120},{"h":101,"v":20},{"h":102,"v":150},{"h":103,"v":8},{"h":104,"v":100},{"h":105,"v":30},{"h":106,"v":180},{"h":107,"v":50},{"h":108,"v":200},{"h":109,"v":80},{"h":110,"v":250},{"h":111,"v":100},{"h":112,"v":200},{"h":113,"v":60},{"h":114,"v":250},{"h":115,"v":150},{"h":116,"v":300},{"h":117,"v":200},{"h":118,"v":320},{"h":119,"v":250},{"h":120,"v":300},{"h":121,"v":350},{"h":122,"v":280},{"h":123,"v":360},{"h":124,"v":370},{"h":125,"v":300},{"h":126,"v":350},{"h":127,"v":200},{"h":128,"v":8},{"h":129,"v":400},{"h":130,"v":600},{"h":131,"v":800},{"h":132,"v":1000},{"h":133,"v":1500},{"h":134,"v":2000},{"h":135,"v":2400},{"h":136,"v":2500},{"h":137,"v":2200},{"h":138,"v":1800},{"h":139,"v":1500},{"h":140,"v":1200},{"h":141,"v":1000},{"h":142,"v":900}],
 "low": [{"h":0,"v":0.22},{"h":4,"v":0.25},{"h":8,"v":0.21},{"h":12,"v":0.24},{"h":16,"v":0.22},{"h":20,"v":0.26},{"h":24,"v":0.23},{"h":28,"v":0.21},{"h":32,"v":0.24},{"h":36,"v":0.22},{"h":40,"v":0.25},{"h":44,"v":0.23},{"h":48,"v":0.22},{"h":52,"v":0.24},{"h":56,"v":0.21},{"h":60,"v":0.23},{"h":64,"v":0.25},{"h":68,"v":0.22},{"h":72,"v":0.24},{"h":76,"v":0.23},{"h":80,"v":0.21},{"h":84,"v":0.24},{"h":88,"v":0.22},{"h":92,"v":0.25},{"h":96,"v":0.23},{"h":100,"v":0.24},{"h":104,"v":0.22},{"h":108,"v":0.26},{"h":112,"v":0.24},{"h":116,"v":0.28},{"h":120,"v":0.25},{"h":124,"v":0.3},{"h":128,"v":0.27},{"h":132,"v":0.31},{"h":136,"v":0.28},{"h":140,"v":0.32},{"h":142,"v":0.3}]
},
"vconcat": [
 {"width": 584, "height": 45,
  "encoding": {
   "x": {"field":"h","type":"quantitative","title":null,"scale":{"domain":[0,360],"nice":false,"zero":false},"axis":{"values":[0,24,48,72,96,120,144,168,192,216,240,264,288,312,336,360],"labels":false,"domainWidth":2.5,"domainColor":"#111"}},
   "y": {"field":"v","type":"quantitative","title":null,"scale":{"type":"log","domain":[1e-7,1e-3],"nice":false},"axis":{"values":[1e-6,1e-5,1e-4],"labelExpr":"datum.value > 5e-5 ? 'X' : datum.value > 5e-6 ? 'M' : 'C'","labelFontSize":10.5}}
  },
  "layer": [
   {"data":{"name":"grid1"},"mark":{"type":"line","color":"#a0a0a0","strokeWidth":1},"encoding":{"detail":{"field":"v","type":"nominal"}}},
   {"data":{"name":"xrayDrop"},"mark":{"type":"rule","color":"#ff33ff","strokeWidth":2.5},"encoding":{"y2":{"datum":1e-7}}},
   {"data":{"name":"xray"},"mark":{"type":"line","color":"#ff33ff","strokeWidth":1,"clip":true},"encoding":{}},
   {"data":{"name":"flare"},"mark":{"type":"point","shape":"circle","size":30,"filled":true,"color":"#ffaaff","stroke":"#3344ff","strokeWidth":1.2,"opacity":1},"encoding":{}}
  ]
 },
 {"width": 584, "height": 45,
  "encoding": {
   "x": {"field":"h","type":"quantitative","title":null,"scale":{"domain":[0,360],"nice":false,"zero":false},"axis":{"values":[0,24,48,72,96,120,144,168,192,216,240,264,288,312,336,360],"labels":false,"domainWidth":2.5,"domainColor":"#111"}},
   "y": {"field":"v","type":"quantitative","scale":{"domain":[300,800],"nice":false,"zero":false},"axis":{"values":[400,500,600,700],"title":"rt","titleX":589,"titleY":9,"titleAngle":0,"titleAlign":"left","titleBaseline":"middle","titleFontSize":7,"titleFontWeight":"normal","titleColor":"#444"}}
  },
  "layer": [
   {"data":{"name":"grid2"},"mark":{"type":"line","color":"#a0a0a0","strokeWidth":1,"yOffset":0.5},"encoding":{"detail":{"field":"v","type":"nominal"}}},
   {"data":{"name":"speed"},"mark":{"type":"line","color":"#00ee00","strokeWidth":1.2,"clip":true},"encoding":{}}
  ]
 },
 {"width": 584, "height": 45,
  "encoding": {
   "x": {"field":"h","type":"quantitative","title":null,"scale":{"domain":[0,360],"nice":false,"zero":false},"axis":{"values":[0,24,48,72,96,120,144,168,192,216,240,264,288,312,336,360],"labels":false,"domainWidth":2.5,"domainColor":"#111"}},
   "y": {"field":"v","type":"quantitative","scale":{"domain":[-2,2],"nice":false,"zero":false},"axis":{"values":[-1,1],"labelExpr":"datum.value > 0 ? 'T' : 'A'","labelFontSize":10.5,"title":"rt","titleX":589,"titleY":9,"titleAngle":0,"titleAlign":"left","titleBaseline":"middle","titleFontSize":7,"titleFontWeight":"normal","titleColor":"#444"}}
  },
  "layer": [
   {"data":{"name":"grid3"},"mark":{"type":"line","color":"#a0a0a0","strokeWidth":1},"encoding":{"detail":{"field":"v","type":"nominal"}}},
   {"data":{"name":"pinkBand"},"mark":{"type":"rule","color":"#f7b2f0","strokeWidth":3.3,"clip":true},"encoding":{"y2":{"field":"v2"}}},
   {"data":{"name":"blueBand"},"mark":{"type":"rule","color":"#b4e6fb","strokeWidth":3.3,"clip":true},"encoding":{"y2":{"field":"v2"}}},
   {"data":{"name":"sect"},"mark":{"type":"point","shape":"square","size":6,"filled":true,"opacity":1,"clip":true},"encoding":{"color":{"field":"c","type":"nominal","legend":null,"scale":{"domain":["T","A","G"],"range":["#b4e6fb","#f7b2f0","#c4c4c4"]}}}},
   {"data":{"name":"z0"},"mark":{"type":"line","color":"#777","strokeWidth":1.2},"encoding":{}},
   {"data":{"name":"model"},"mark":{"type":"line","strokeWidth":1.3},"encoding":{"color":{"field":"s","type":"nominal","legend":null,"scale":{"domain":["a","m","t"],"range":["#ee3333","#448844","#5566ee"]}}}}
  ]
 },
 {"width": 584, "height": 45,
  "encoding": {
   "x": {"field":"h","type":"quantitative","title":null,"scale":{"domain":[0,360],"nice":false,"zero":false},"axis":{"values":[0,24,48,72,96,120,144,168,192,216,240,264,288,312,336,360],"labels":false,"domainWidth":2.5,"domainColor":"#111"}},
   "y": {"field":"v","type":"quantitative","scale":{"domain":[-20,20],"nice":false,"zero":false},"axis":{"values":[-10,0,10],"title":"rt","titleX":589,"titleY":9,"titleAngle":0,"titleAlign":"left","titleBaseline":"middle","titleFontSize":7,"titleFontWeight":"normal","titleColor":"#444"}}
  },
  "layer": [
   {"data":{"name":"grid4"},"mark":{"type":"line","color":"#a0a0a0","strokeWidth":1},"encoding":{"detail":{"field":"v","type":"nominal"}}},
   {"data":{"name":"bz"},"mark":{"type":"line","color":"#ff0000","strokeWidth":1,"clip":true},"encoding":{}},
   {"data":{"name":"z0"},"mark":{"type":"line","color":"#a00000","strokeWidth":1},"encoding":{}},
   {"data":{"name":"bt"},"mark":{"type":"line","color":"#0000ff","strokeWidth":1,"clip":true},"encoding":{}}
  ]
 },
 {"width": 584, "height": 45,
  "encoding": {
   "x": {"field":"h","type":"quantitative","title":null,"scale":{"domain":[0,360],"nice":false,"zero":false},"axis":{"values":[0,24,48,72,96,120,144,168,192,216,240,264,288,312,336,360],"labels":false,"domainWidth":2.5,"domainColor":"#111"}},
   "y": {"field":"v","type":"quantitative","title":null,"scale":{"domain":[-100,50],"nice":false,"zero":false},"axis":{"values":[-50,0]}}
  },
  "layer": [
   {"data":{"name":"grid5"},"mark":{"type":"line","color":"#a0a0a0","strokeWidth":1,"yOffset":0.5},"encoding":{}},
   {"data":{"name":"z0"},"mark":{"type":"line","color":"#d07070","strokeWidth":2.5},"encoding":{}},
   {"data":{"name":"dst"},"mark":{"type":"line","color":"#ee22ee","strokeWidth":1,"clip":true},"encoding":{}}
  ]
 },
 {"width": 584, "height": 45,
  "encoding": {
   "x": {"field":"h","type":"quantitative","title":null,"scale":{"domain":[0,360],"nice":false,"zero":false},"axis":{"values":[0,24,48,72,96,120,144,168,192,216,240,264,288,312,336,360],"labels":false,"domainWidth":2.5,"domainColor":"#111"}},
   "y": {"field":"v","type":"quantitative","title":null,"scale":{"domain":[0,60],"nice":false,"zero":false},"axis":{"values":[20,40]}}
  },
  "layer": [
   {"data":{"name":"grid6"},"mark":{"type":"line","color":"#a0a0a0","strokeWidth":1,"yOffset":0.5},"encoding":{"detail":{"field":"v","type":"nominal"}}},
   {"data":{"name":"cyan"},"mark":{"type":"line","color":"#00f0f0","strokeWidth":1,"clip":true},"encoding":{"detail":{"field":"s","type":"nominal"}}}
  ]
 },
 {"width": 584, "height": 45,
  "encoding": {
   "x": {"field":"h","type":"quantitative","title":null,"scale":{"domain":[0,360],"nice":false,"zero":false},"axis":{"values":[0,24,48,72,96,120,144,168,192,216,240,264,288,312,336,360],"labels":false,"domainWidth":2.5,"domainColor":"#111"}},
   "y": {"field":"v","type":"quantitative","scale":{"type":"log","domain":[1e5,5e7],"nice":false},"axis":{"values":[1e6,1e7],"labelExpr":"datum.value > 5e6 ? '10⁷' : '10⁶'","title":"rt","titleX":589,"titleY":8,"titleAngle":0,"titleAlign":"left","titleBaseline":"middle","titleFontSize":7,"titleFontWeight":"normal","titleColor":"#444"}}
  },
  "layer": [
   {"data":{"name":"elec"},"mark":{"type":"line","color":"#9933cc","strokeWidth":1,"clip":true},"encoding":{}},
   {"data":{"name":"e67"},"mark":{"type":"line","color":"#c00000","strokeWidth":1},"encoding":{"detail":{"field":"v","type":"nominal"}}}
  ]
 },
 {"width": 584, "height": 45,
  "encoding": {
   "x": {"field":"h","type":"quantitative","title":null,"scale":{"domain":[0,360],"nice":false,"zero":false},"axis":{"values":[0,24,48,72,96,120,144,168,192,216,240,264,288,312,336,360],"labels":false,"domainWidth":2.5,"domainColor":"#111"}},
   "y": {"field":"v","type":"quantitative","scale":{"type":"log","domain":[10,1e5],"nice":false},"axis":{"values":[100,1000,10000],"labelExpr":"datum.value > 5000 ? '10⁴' : datum.value > 500 ? '10³' : '10²'","title":"rt","titleX":589,"titleY":10,"titleAngle":0,"titleAlign":"left","titleBaseline":"middle","titleFontSize":7,"titleFontWeight":"normal","titleColor":"#444"}}
  },
  "layer": [
   {"data":{"name":"grid8"},"mark":{"type":"line","color":"#a0a0a0","strokeWidth":1},"encoding":{"detail":{"field":"v","type":"nominal"}}},
   {"data":{"name":"pBlue"},"mark":{"type":"line","color":"#0000ff","strokeWidth":1,"clip":true},"encoding":{}},
   {"data":{"name":"pRed"},"mark":{"type":"line","color":"#ff0000","strokeWidth":1,"clip":true},"encoding":{}},
   {"data":{"name":"p4"},"mark":{"type":"line","color":"#dd3333","strokeWidth":1.5,"strokeDash":[10,5]},"encoding":{}}
  ]
 },
 {"width": 584, "height": 45,
  "encoding": {
   "x": {"field":"h","type":"quantitative","scale":{"domain":[0,360],"nice":false,"zero":false},"axis":{"values":[0,24,48,72,96,120,144,168,192,216,240,264,288,312,336,360],"domainWidth":1,"domainColor":"#222","labelExpr":"datum.value >= 360 ? '' : '3/' + ((5 + datum.value/24) < 10 ? ' ' + (5 + datum.value/24) : (5 + datum.value/24))","labelOffset":19.47,"labelPadding":5,"labelFontSize":10.5,"labelOverlap":false,"labelBound":false,"labelFlush":false,"title":"2025","titleX":-15,"titleY":10,"titleBaseline":"middle","titleAlign":"center","titleFontWeight":"normal","titleFontSize":10.5,"titleColor":"#111"}},
   "y": {"field":"v","type":"quantitative","title":null,"scale":{"type":"log","domain":[0.1,1e5],"nice":false},"axis":{"values":[1,100,10000],"labelExpr":"datum.value > 5000 ? '10⁴' : datum.value > 50 ? '10²' : '10⁰'"}}
  },
  "layer": [
   {"data":{"name":"grid9"},"mark":{"type":"line","color":"#a0a0a0","strokeWidth":1},"encoding":{"detail":{"field":"v","type":"nominal"}}},
   {"data":{"name":"low"},"mark":{"type":"line","color":"#2233ff","strokeWidth":1.2,"clip":true},"encoding":{}}
  ]
 }
]
}
